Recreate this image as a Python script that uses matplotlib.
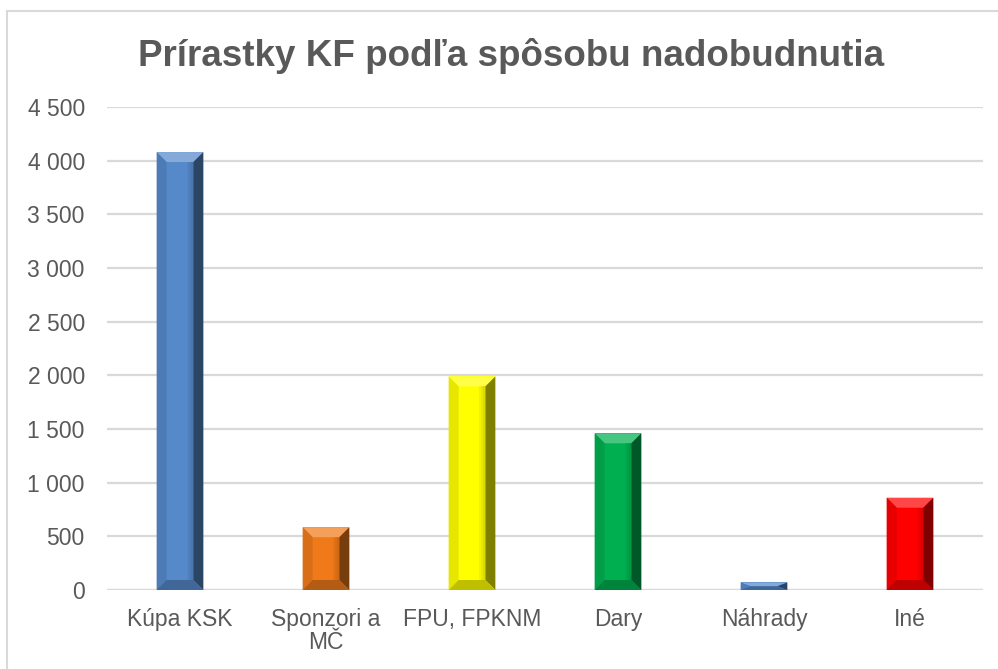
import numpy as np
import matplotlib.pyplot as plt
from matplotlib.patches import Polygon, Rectangle
from matplotlib.colors import to_rgb

plt.rcParams['font.family'] = ['Liberation Sans', 'DejaVu Sans']

categories = ["Kúpa KSK", "Sponzori a\nMČ", "FPU, FPKNM", "Dary", "Náhrady", "Iné"]
values = [4080, 585, 1990, 1460, 70, 860]
colors = ["#5689CA", "#F07A1A", "#FFFF00", "#00B050", "#5689CA", "#FF0000"]
yticks = [0, 500, 1000, 1500, 2000, 2500, 3000, 3500, 4000, 4500]


def shade(c, f):
    r = np.array(to_rgb(c))
    if f > 0:
        return tuple(r + (1 - r) * f)
    return tuple(r * (1 + f))


fig = plt.figure(figsize=(9.98, 6.69), dpi=100)
W, H = 998, 669
ax = fig.add_axes([107 / W, 1 - 590 / H, 876 / W, 483 / H])

x = np.arange(len(categories))
bw = 0.32
ax.bar(x, values, width=bw, color=colors, zorder=2)
ax.set_xlim(-0.5, len(categories) - 0.5)
ax.set_ylim(0, 4500)

# bevel facets (about 10 px)
px_x = len(categories) / 876
px_y = 4500 / 483
for xi, v, c in zip(x, values, colors):
    l, r = xi - bw / 2, xi + bw / 2
    bx = min(10 * px_x, bw / 2)
    by = min(10 * px_y, v / 2)
    facets = [
        ([(l, v), (r, v), (r - bx, v - by), (l + bx, v - by)], 0.28),
        ([(l, 0), (l, v), (l + bx, v - by), (l + bx, by)], -0.10),
        ([(r, 0), (r, v), (r - bx, v - by), (r - bx, by)], -0.50),
        ([(l, 0), (r, 0), (r - bx, by), (l + bx, by)], -0.25),
    ]
    for pts, f in facets:
        ax.add_patch(Polygon(pts, closed=True, facecolor=shade(c, f),
                             edgecolor='none', zorder=3))
    # soft darker strip inside right edge
    for k, a in enumerate([0.15, 0.3, 0.45]):
        ax.add_patch(Rectangle((r - bx - (3 - k) * 2 * px_x, by), 2 * px_x,
                               max(v - 2 * by, 0), facecolor=shade(c, -0.3),
                               edgecolor='none', alpha=a, zorder=3))

ax.set_yticks(yticks)
ax.set_yticklabels([f"{t:,}".replace(",", " ") for t in yticks])
ax.set_xticks(x)
ax.set_xticklabels(categories, linespacing=1.0)
ax.tick_params(axis='both', length=0, labelsize=16.5, colors='#595959')
ax.tick_params(axis='y', pad=16)
ax.tick_params(axis='x', pad=13)
ax.grid(axis='y', color='#D9D9D9', linewidth=1.6, zorder=0)
for s in ax.spines.values():
    s.set_visible(False)
ax.axhline(0, color='#D9D9D9', linewidth=1.6, zorder=1)

fig.text(511 / W, 1 - 56 / H, "Prírastky KF podľa spôsobu nadobudnutia",
         ha='center', va='center', fontsize=26.5, fontweight='bold', color='#595959')

fig.patches.append(Rectangle((7 / W, -0.1), 1.1, 1 - 11 / H + 0.1,
                             transform=fig.transFigure, fill=False,
                             edgecolor='#D9D9D9', linewidth=1.5))

fig.savefig("out.png", dpi=100)
